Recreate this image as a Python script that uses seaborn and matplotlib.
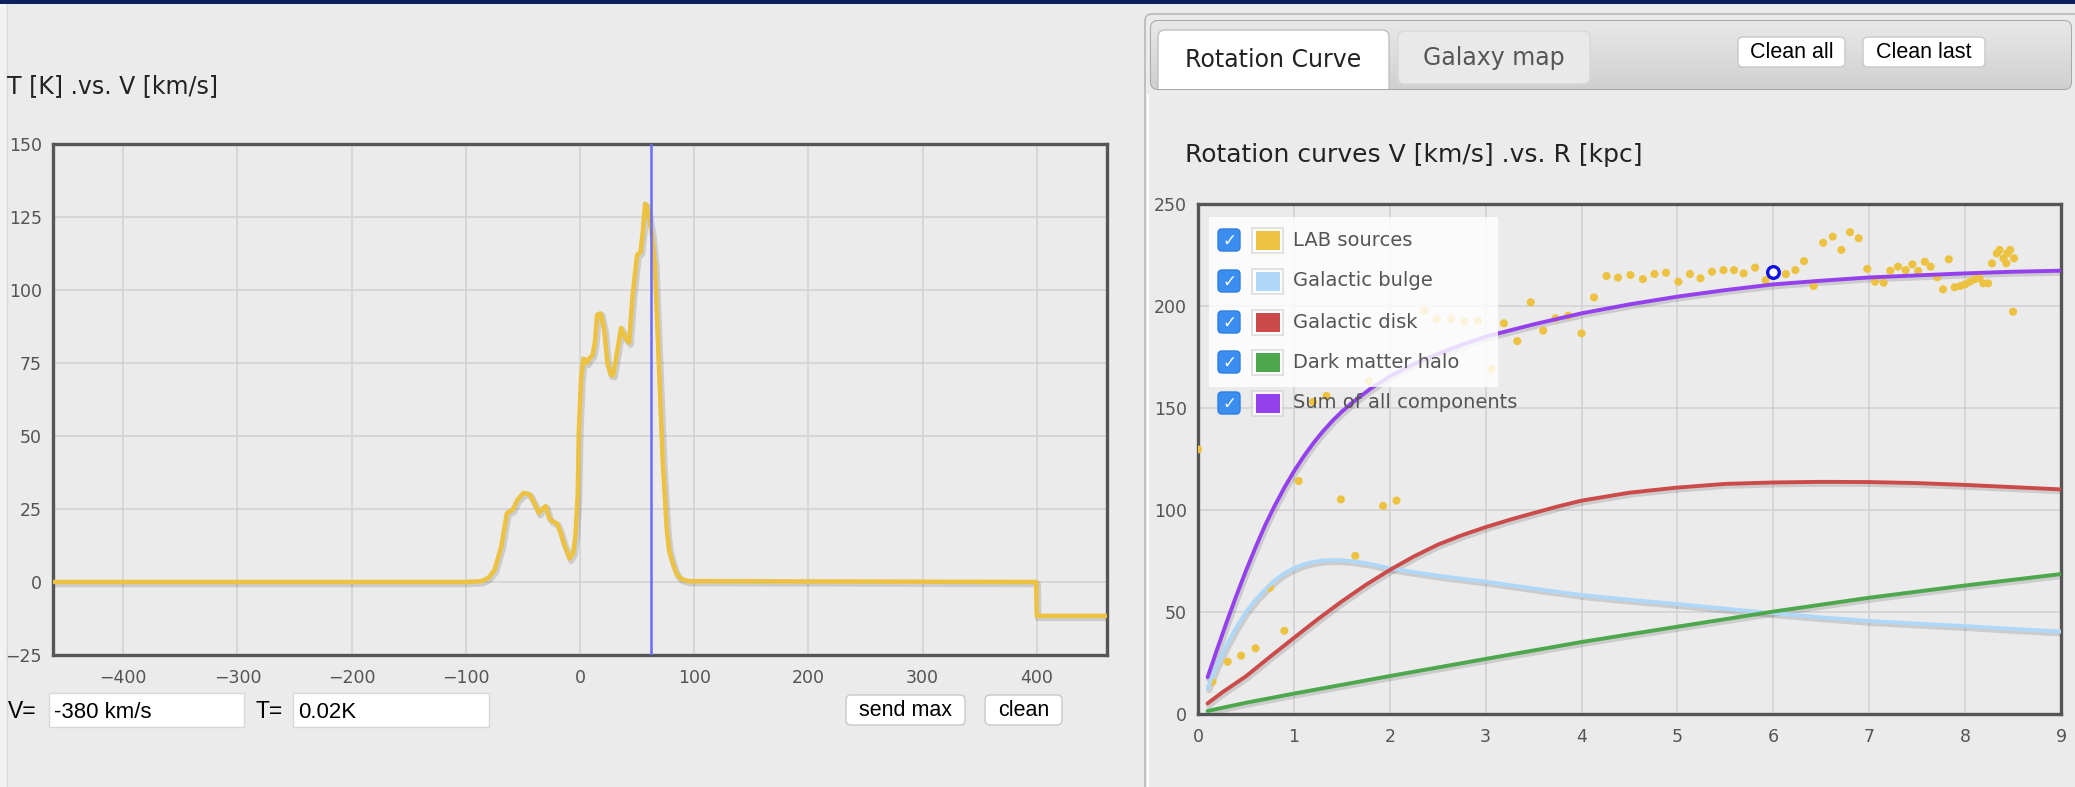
import matplotlib
matplotlib.use("Agg")
import matplotlib.pyplot as plt
import matplotlib.transforms as mtransforms
from matplotlib.patches import FancyBboxPatch, Rectangle
import numpy as np
import seaborn as sns

# ========== data ==========
# HI spectrum: T [K] vs V [km/s]
spec_v = [-461, -100, -86, -80, -75, -69, -64, -59, -55, -49.5, -44, -40, -36, -33, -30, -27,
          -24, -20, -17, -14, -9, -6, -4, -2, -1, 1, 3, 6, 8, 11, 13, 15, 18, 21, 24, 27, 29,
          32, 36, 40, 43, 46, 50, 53, 55, 57, 58.5, 60, 63, 65.5, 69, 72.5, 76, 78, 81.5, 85,
          88.7, 95, 399.5, 400, 461]
spec_t = [0, 0, 0.3, 1.5, 4, 12, 23.6, 24.7, 28, 30.5, 30, 27, 23.6, 25, 26, 22,
          20.7, 20, 17, 13, 8, 10, 16, 30, 52, 70, 76.5, 75, 76.5, 77.7, 82, 91.5, 92, 87, 75, 71, 70.8,
          77.7, 87, 83.4, 82, 98, 112, 113, 120, 129.5, 129, 126, 119, 109, 75, 41, 18, 11, 6, 2.5,
          1, 0.3, 0, -11.6, -11.6]
cursor_v = 62

# rotation curve components, V [km/s] vs R [kpc]
bulge_r = [0.1, 0.2, 0.3, 0.4, 0.5, 0.6, 0.7, 0.8, 0.9, 1.0, 1.1, 1.2, 1.3, 1.45, 1.6, 1.8, 2,
           2.25, 2.5, 2.75, 3, 3.5, 4, 4.5, 5, 5.5, 6, 6.5, 7, 7.5, 8, 8.5, 9]
bulge_v = [12.7, 24, 34, 42.5, 50, 56, 61, 65.5, 69, 71.5, 73.3, 74.5, 75.2, 75.5, 75, 73.5, 71.4,
           69.6, 67.8, 66.3, 64.9, 61.5, 58.3, 56, 53.9, 51.6, 49.4, 47.4, 45.6, 44.3, 43.1, 41.7, 40.4]
disk_r = [0.1, 0.25, 0.5, 0.75, 1, 1.25, 1.5, 1.75, 2, 2.25, 2.5, 2.75, 3, 3.25, 3.5, 3.75, 4,
          4.5, 5, 5.5, 6, 6.5, 7, 7.5, 8, 8.5, 9]
disk_v = [5.2, 10.5, 18.5, 28, 37.3, 46.5, 55.2, 63.3, 70.6, 77.2, 83, 87.6, 91.6, 95.2, 98.5, 101.7,
          104.6, 108.5, 111, 112.8, 113.5, 113.8, 113.7, 113.2, 112.3, 111.2, 110.1]
halo_r = [0.1, 0.5, 1, 2, 3, 4, 5, 6, 7, 8, 9]
halo_v = [1.5, 5.5, 10, 18.6, 27, 35.3, 42.8, 50.2, 57, 63, 68.6]
sum_r = [0.1, 0.2, 0.3, 0.4, 0.5, 0.6, 0.7, 0.8, 0.9, 1.0, 1.1, 1.2, 1.3, 1.4, 1.5, 1.6, 1.8, 2.0,
         2.25, 2.5, 2.75, 3, 3.5, 4, 4.5, 5, 5.5, 6, 6.5, 7, 7.5, 8, 8.5, 9]
sum_v = [18, 31.8, 45.2, 58, 70.2, 81.7, 92.5, 102.1, 110.9, 118.9, 126.1, 132.6, 138.4, 143.6, 148.2,
         152.3, 159.5, 165.5, 171.5, 176.5, 181, 185, 191, 196.4, 200.8, 204.6, 207.8, 210.6, 212.4,
         214, 215, 216, 216.8, 217.3]

lab_r = [0.0, 0.15, 0.31, 0.45, 0.6, 0.75, 0.9, 1.05, 1.2, 1.34, 1.49, 1.64, 1.78, 1.93, 2.07,
         2.36, 2.49, 2.64, 2.78, 2.92, 3.06, 3.19, 3.33, 3.47, 3.60, 3.73, 3.86, 4.0, 4.13,
         4.26, 4.38, 4.51, 4.64, 4.76, 4.88, 5.01, 5.13, 5.24, 5.36, 5.48, 5.59, 5.69, 5.81,
         5.92, 6.13, 6.23, 6.32, 6.42, 6.52, 6.62, 6.71, 6.80, 6.89, 6.98, 7.06, 7.15, 7.22,
         7.30, 7.38, 7.45, 7.51, 7.58, 7.64, 7.71, 7.77, 7.83, 7.89, 7.95, 8.0, 8.05, 8.10,
         8.15, 8.19, 8.24, 8.28, 8.33, 8.36, 8.40, 8.43, 8.44, 8.47, 8.50, 8.51]
lab_v = [129.7, 15.8, 25.6, 28.6, 32.2, 61.9, 40.8, 114.2, 153, 155.9, 105.2, 77.5, 163.2, 102, 104.6,
         197.7, 193.6, 193.6, 192.3, 192.8, 169, 191.5, 182.8, 201.8, 187.9, 194, 195.3, 186.6, 204.2,
         214.7, 213.9, 215.2, 213.2, 215.7, 216.3, 211.9, 215.7, 213.6, 216.8, 217.6, 217.6, 216, 218.8,
         212.7, 215.7, 217.6, 222, 209.8, 231, 234, 227.5, 236.2, 233.2, 218.2, 211.9, 211.4, 217.3,
         219.3, 217.6, 220.4, 217.1, 221.7, 219.3, 214.1, 208.2, 222.9, 209.2, 209.8, 210.6, 211.9, 213.1,
         213.6, 211.1, 211.1, 220.9, 225.8, 227.5, 223.4, 220.9, 225.8, 227.5, 197.2, 223.4]
sel_r, sel_v = [6.0], [216.5]

legend_labels = ["LAB sources", "Galactic bulge", "Galactic disk", "Dark matter halo", "Sum of all components"]
legend_colors = ["#edc240", "#afd8f8", "#cb4b4b", "#4da74d", "#9440ed"]

# ========== style ==========
W, H = 2075, 787
BG = "#ebebeb"
TICK = "#545454"
sns.set_theme(style="whitegrid")
plt.rcParams["font.family"] = ["DejaVu Sans"]

fig = plt.figure(figsize=(W / 100, H / 100), dpi=100, facecolor=BG)

# background UI layer in pixel coordinates
ui = fig.add_axes([0, 0, 1, 1], zorder=0)
ui.set_xlim(0, W)
ui.set_ylim(H, 0)
ui.axis("off")


def rbox(axx, x, y, w, h, r, fc, ec, lw=1.0, **kw):
    p = FancyBboxPatch((x, y), w, h, boxstyle=f"round,pad=0,rounding_size={r}",
                       fc=fc, ec=ec, lw=lw, **kw)
    axx.add_patch(p)
    return p


def px_axes(x0, y0, x1, y1, zorder=1):
    return fig.add_axes([x0 / W, 1 - y1 / H, (x1 - x0) / W, (y1 - y0) / H], zorder=zorder)


def style_axes(ax):
    ax.set_facecolor(BG)
    ax.grid(True, color="#d2d2d2", lw=1.2)
    for s in ax.spines.values():
        s.set_color("#555555")
        s.set_linewidth(2.4)
    ax.tick_params(length=0, labelsize=12.5, labelcolor=TICK)
    ax.tick_params(axis="y", pad=8)
    ax.tick_params(axis="x", pad=10)
    ax.set_xlabel("")
    ax.set_ylabel("")


def shadow(ax, x, y, lw):
    tr = mtransforms.offset_copy(ax.transData, fig=fig, x=1.5, y=-2.0, units="dots")
    ax.plot(x, y, color="black", alpha=0.13, lw=lw + 1.5, transform=tr, solid_capstyle="round", zorder=2)


# page chrome
ui.add_patch(Rectangle((0, 0), W, 3.5, fc="#0d1f5c", ec="none"))
ui.add_patch(Rectangle((0, 3.5), 6, H, fc="#f3f3f3", ec="none"))
ui.plot([6.5, 6.5], [3.5, H], color="#dcdcdc", lw=1)

ui.text(7, 86, "T [K] .vs. V [km/s]", fontsize=17, color="#222222", va="center", ha="left")

# left widgets
wfont = ["Liberation Sans", "DejaVu Sans"]
ui.text(8, 712, "V=", fontsize=16.5, family=wfont, va="center", color="black")
ui.add_patch(Rectangle((49, 693), 195, 34, fc="white", ec="#d8d8d8", lw=1))
ui.text(54, 712, "-380 km/s", fontsize=16, family=wfont, va="center", color="black")
ui.text(255, 712, "T=", fontsize=16.5, family=wfont, va="center", color="black")
ui.add_patch(Rectangle((293, 693), 196, 34, fc="white", ec="#d8d8d8", lw=1))
ui.text(298, 712, "0.02K", fontsize=16, family=wfont, va="center", color="black")
for (bx0, bx1), lab in [((846, 965), "send max"), ((985, 1062), "clean")]:
    rbox(ui, bx0, 695, bx1 - bx0, 30, 5, "white", "#c8c8c8", 1.0)
    ui.text((bx0 + bx1) / 2, 710.5, lab, fontsize=15.5, family=wfont, ha="center", va="center", color="black")

# right panel chrome
rbox(ui, 1145, 14, 960, 820, 7, BG, "#b8b8b8", 1.2)
ui.plot([1148, 1148], [95, H], color="white", lw=1.5)
bar = rbox(ui, 1151, 21, 920, 68, 7, "#dcdcdc", "#a8a8a8", 1.5)
grad = np.linspace(0, 1, 64).reshape(-1, 1)
gimg = ui.imshow(grad, extent=[1151, 2071, 89, 21], cmap=matplotlib.colors.LinearSegmentedColormap.from_list(
    "hdr", ["#e8e8e8", "#d0d0d0"]), aspect="auto", zorder=1.5)
gimg.set_clip_path(bar)
t1 = rbox(ui, 1158, 30, 231, 75, 7, "white", "#c0c0c0", 1.0, zorder=2)
t1.set_clip_path(bar)
rbox(ui, 1398, 31, 192, 53, 7, "#e9e9e9", "#d8d8d8", 1.0, zorder=2)
ui.text(1273.5, 60, "Rotation Curve", fontsize=17, color="#222222", ha="center", va="center", zorder=3)
ui.text(1494, 58, "Galaxy map", fontsize=17, color="#555555", ha="center", va="center", zorder=3)
for (bx0, bx1), lab in [((1738, 1845), "Clean all"), ((1863, 1985), "Clean last")]:
    rbox(ui, bx0, 37, bx1 - bx0, 30, 5, "white", "#c8c8c8", 1.0, zorder=2)
    ui.text((bx0 + bx1) / 2, 52, lab, fontsize=15.5, family=wfont, ha="center", va="center", color="black", zorder=3)
ui.text(1185, 155, "Rotation curves V [km/s] .vs. R [kpc]", fontsize=18, color="#222222", va="center", ha="left")

# ========== left chart: spectrum ==========
ax1 = px_axes(53, 144, 1107, 655)
style_axes(ax1)
shadow(ax1, spec_v, spec_t, 3.2)
sns.lineplot(x=spec_v, y=spec_t, ax=ax1, color="#edc240", lw=3.2, sort=False, estimator=None, zorder=3)
ax1.axvline(cursor_v, color="#6b6bff", lw=1.8, zorder=4)
ax1.set_xlim(-461.5, 461.5)
ax1.set_ylim(-25, 150)
ax1.set_xticks(range(-400, 401, 100))
ax1.set_yticks(range(-25, 151, 25))

# ========== right chart: rotation curves ==========
ax2 = px_axes(1198, 204, 2061, 714)
style_axes(ax2)
sns.scatterplot(x=lab_r, y=lab_v, ax=ax2, color=legend_colors[0], s=34, edgecolor="none", zorder=3)
for rr, vv, col in [(bulge_r, bulge_v, legend_colors[1]), (disk_r, disk_v, legend_colors[2]),
                    (halo_r, halo_v, legend_colors[3]), (sum_r, sum_v, legend_colors[4])]:
    shadow(ax2, rr, vv, 2.8)
    sns.lineplot(x=rr, y=vv, ax=ax2, color=col, lw=2.8, sort=False, estimator=None, zorder=3)
ax2.scatter(sel_r, sel_v, s=70, facecolor="white", edgecolor="#1010e8", lw=2.4, zorder=5)
ax2.set_xlim(0, 9)
ax2.set_ylim(0, 250)
ax2.set_xticks(range(0, 10))
ax2.set_yticks(range(0, 251, 50))

# legend overlay (checkbox style as in the page)
top = fig.add_axes([0, 0, 1, 1], zorder=6)
top.set_xlim(0, W)
top.set_ylim(H, 0)
top.axis("off")
top.add_patch(Rectangle((1209, 217), 289, 170, fc="white", ec="none", alpha=0.82))
for i, (lab, col) in enumerate(zip(legend_labels, legend_colors)):
    yc = [240, 281, 322, 362, 403][i]
    rbox(top, 1218, yc - 11, 22, 22, 4, "#3b8ef0", "#2f7fe0", 1.0)
    top.text(1229, yc + 0.5, "\u2713", color="white", fontsize=12, ha="center", va="center", fontweight="bold")
    top.add_patch(Rectangle((1252, yc - 12.5), 31, 25, fc="white", ec="#c8c8c8", lw=1.2, alpha=0.6))
    top.add_patch(Rectangle((1255.5, yc - 9.5), 24, 19, fc=col, ec="none"))
    top.text(1293, yc, lab, fontsize=14, color=TICK, ha="left", va="center")

fig.savefig("out.png", dpi=100, facecolor=BG)
